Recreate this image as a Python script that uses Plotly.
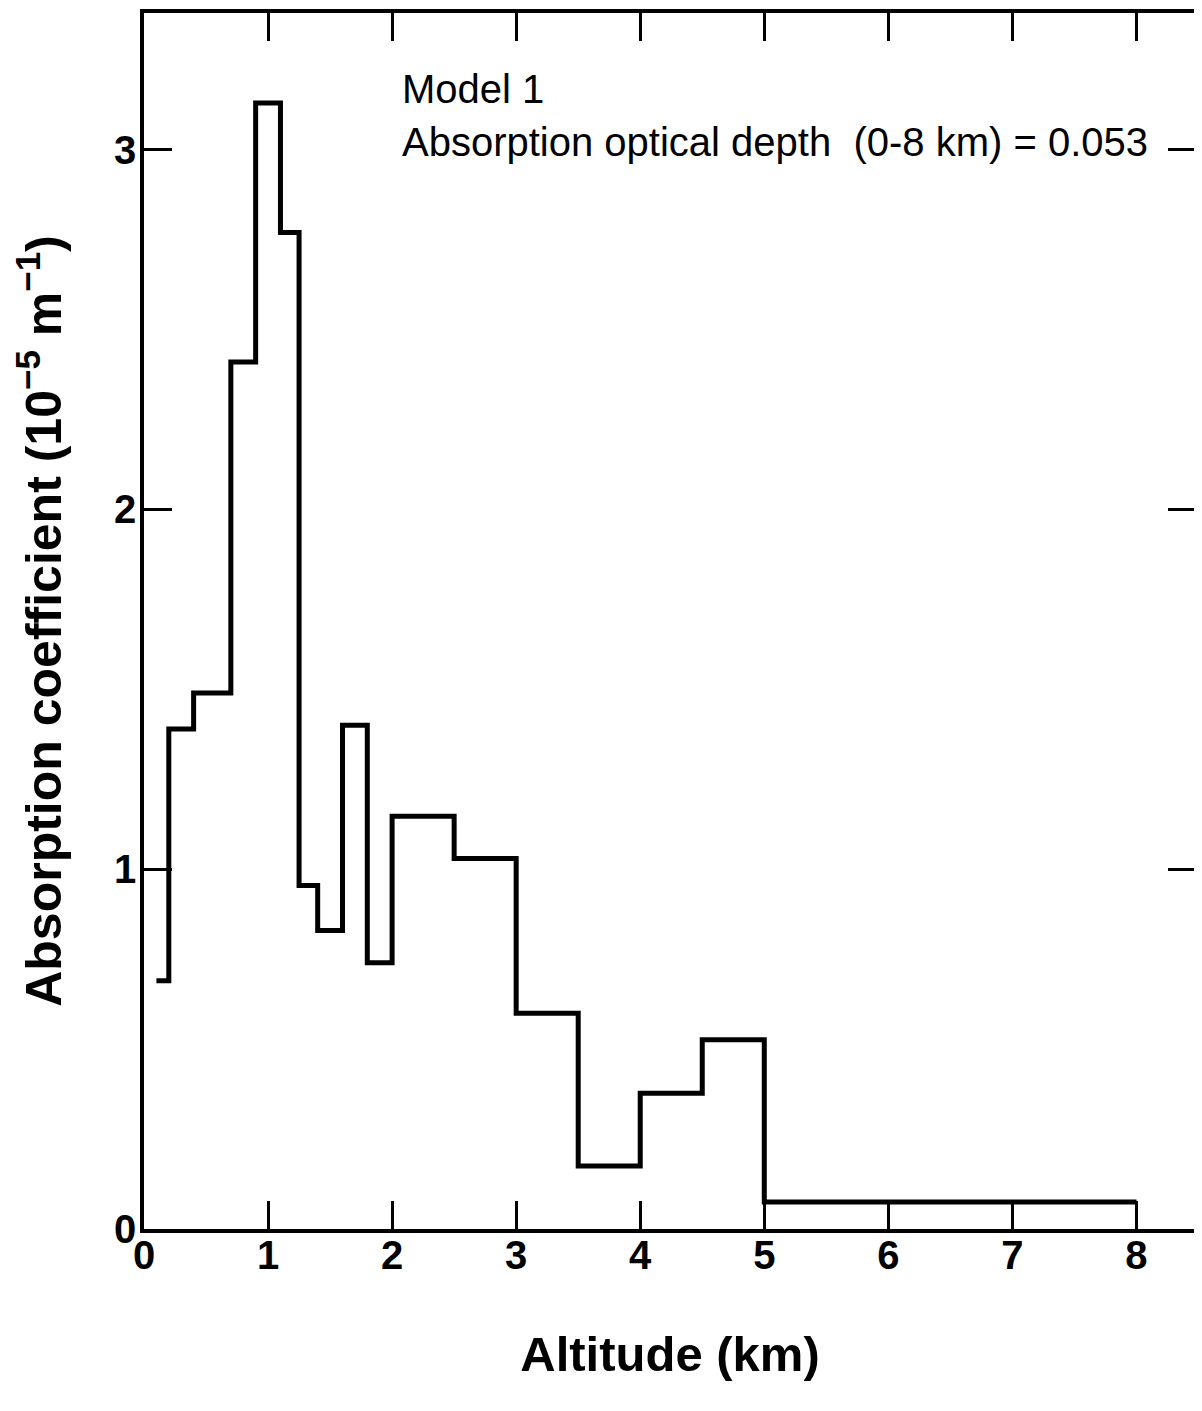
import plotly.graph_objects as go

# Bin left edges (km) and absorption coefficient values (10^-5 m^-1)
bin_edges = [0.1, 0.2, 0.4, 0.7, 0.9, 1.1, 1.25, 1.4, 1.6, 1.8, 2.0, 2.5, 3.0, 3.5, 4.0, 4.5, 5.0, 8.0]
values = [0.69, 1.39, 1.49, 2.41, 3.13, 2.77, 0.955, 0.83, 1.40, 0.74, 1.147, 1.03, 0.60, 0.175, 0.377, 0.526, 0.075]

x_ticks = [0, 1, 2, 3, 4, 5, 6, 7, 8]
y_ticks = [0, 1, 2, 3]

font_family = "Liberation Sans, Arial, Helvetica, sans-serif"

# page body has an 8px margin; figure sized so plot lands where reference has it
W, H = 1194, 1403
ML, MR, MT, MB = 136, 6, 1, 182

fig = go.Figure()
fig.add_trace(go.Scatter(
    x=bin_edges,
    y=values + [values[-1]],
    mode="lines",
    line=dict(shape="hv", color="black", width=5),
    hoverinfo="skip",
    showlegend=False,
))

axis_common = dict(
    showline=True, linecolor="black", linewidth=3.5, mirror="ticks",
    ticks="inside", tickcolor="black", tickwidth=2.5, ticklen=28,
    showgrid=False, zeroline=False,
    tickfont=dict(family=font_family, size=40, color="black", weight="bold"),
)

fig.update_layout(
    width=W, height=H,
    margin=dict(l=ML, r=MR, t=MT, b=MB),
    paper_bgcolor="white", plot_bgcolor="white",
    font=dict(family=font_family, color="black"),
    xaxis=dict(
        range=[0, 8.48], tickvals=x_ticks, ticktext=[str(v) for v in x_ticks],
        ticklabelstandoff=-12,
        title=dict(text="Altitude (km)", font=dict(family=font_family, size=49, weight="bold"), standoff=62),
        **axis_common,
    ),
    yaxis=dict(
        range=[0, 3.38], tickvals=y_ticks, ticktext=[str(v) for v in y_ticks],
        ticklabelstandoff=-4,
        title=dict(text="Absorption coefficient (10<sup>\u22125</sup> m<sup>\u22121</sup>)",
                   font=dict(family=font_family, size=50, weight="bold"), standoff=40),
        **axis_common,
    ),
)

# annotation positions given in reference page pixels
ann_specs = [
    ("Model 1", 400, 85),
    ("Absorption optical depth &nbsp;(0-8 km) = 0.053", 400, 138),
]
plot_w = W - ML - MR
plot_h = H - MT - MB
for text, px, py in ann_specs:
    fig.add_annotation(
        x=(px - 8 - ML) / plot_w, y=1 - (py - 8 - MT) / plot_h,
        xref="paper", yref="paper", text=text, showarrow=False,
        xanchor="left", yanchor="middle",
        font=dict(family=font_family, size=40, color="black"),
    )

fig.write_html("out.html")
